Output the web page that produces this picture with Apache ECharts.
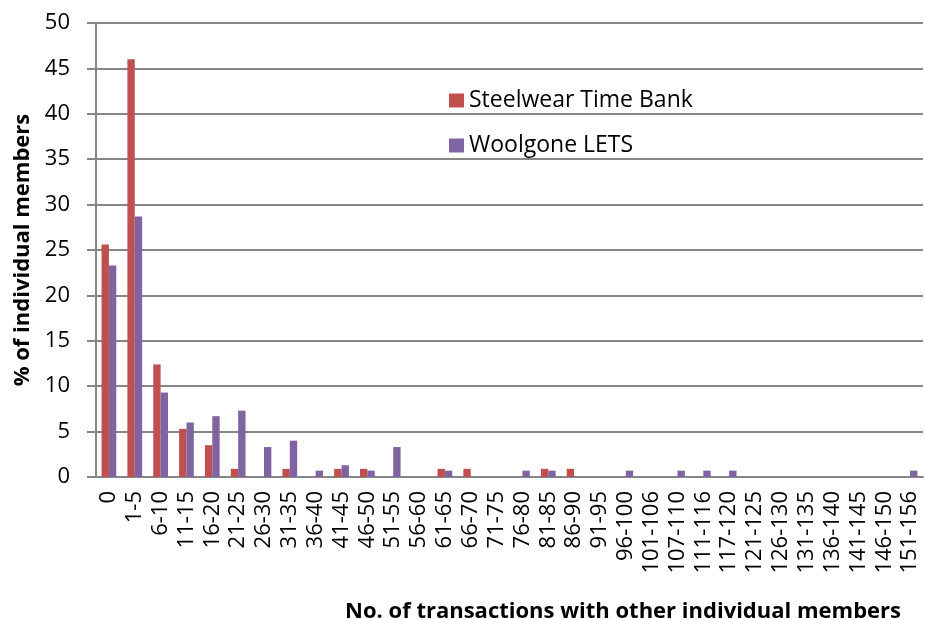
<!DOCTYPE html>
<html>
<head>
<meta charset="utf-8">
<script src="https://cdn.jsdelivr.net/npm/echarts@6/dist/echarts.min.js"></script>
<style>html,body{margin:0;padding:0;background:#fff}#c{width:925px;height:619px}</style>
</head>
<body>
<div id="c"></div>
<script>
const categories = ["0","1-5","6-10","11-15","16-20","21-25","26-30","31-35","36-40","41-45","46-50","51-55","56-60","61-65","66-70","71-75","76-80","81-85","86-90","91-95","96-100","101-106","107-110","111-116","117-120","121-125","126-130","131-135","136-140","141-145","146-150","151-156"];
const steelwear = [25.6,46.0,12.4,5.3,3.5,0.9,0,0.9,0,0.9,0.9,0,0,0.9,0.9,0,0,0.9,0.9,0,0,0,0,0,0,0,0,0,0,0,0,0];
const woolgone = [23.3,28.7,9.3,6.0,6.7,7.3,3.3,4.0,0.7,1.3,0.7,3.3,0,0.7,0,0,0.7,0.7,0,0,0.7,0,0.7,0.7,0.7,0,0,0,0,0,0,0.7];
const yTicks = {min:0, max:50, interval:5};

const chart = echarts.init(document.getElementById('c'), null, {renderer:'canvas'});
const font = 'Open Sans';
chart.setOption({
  animation:false,
  backgroundColor:'#ffffff',
  grid:{left:96, right:2, top:23, bottom:142, containLabel:false, outerBoundsMode:'none'},
  legend:{
    orient:'vertical', left:444, top:84, itemWidth:15, itemHeight:14, itemGap:22,
    icon:'rect',
    textStyle:{fontFamily:font, fontSize:23, color:'#000'},
    data:['Steelwear Time Bank','Woolgone LETS']
  },
  xAxis:{
    type:'category', data:categories,
    name:'No. of transactions with other individual members',
    nameLocation:'end', nameGap:0,
    nameTextStyle:{fontFamily:font, fontSize:22, fontWeight:'bold', color:'#000', align:'right', verticalAlign:'top', padding:[124,22,0,0]},
    axisLine:{lineStyle:{color:'#868686', width:2}},
    axisTick:{show:false},
    axisLabel:{rotate:90, interval:0, fontFamily:font, fontSize:22, color:'#000', margin:14}
  },
  yAxis:{
    type:'value', min:yTicks.min, max:yTicks.max, interval:yTicks.interval,
    name:'% of individual members', nameLocation:'middle', nameGap:62, nameRotate:90,
    nameTextStyle:{fontFamily:font, fontSize:22, fontWeight:'bold', color:'#000'},
    axisLine:{show:true, lineStyle:{color:'#868686', width:2}},
    axisTick:{show:true, length:9, lineStyle:{color:'#868686', width:2}},
    axisLabel:{fontFamily:font, fontSize:22, color:'#000', margin:26},
    splitLine:{lineStyle:{color:'#868686', width:2}}
  },
  series:[
    {name:'Steelwear Time Bank', type:'bar', data:steelwear, barGap:'0%', barCategoryGap:'43%', itemStyle:{color:'#C0504D'}},
    {name:'Woolgone LETS', type:'bar', data:woolgone, barGap:'0%', barCategoryGap:'43%', itemStyle:{color:'#8064A2'}}
  ]
});
</script>
</body>
</html>
